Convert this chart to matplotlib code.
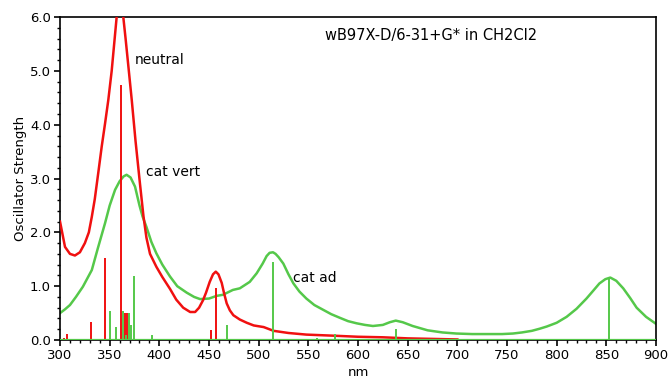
import matplotlib
matplotlib.use("Agg")
import matplotlib.pyplot as plt
from matplotlib.ticker import MultipleLocator, FormatStrFormatter

# Spectra (nm, oscillator strength)
neutral_nm = [300, 305, 310, 315, 320, 325, 329, 332, 335, 338.6, 342, 345.3, 348.6, 352, 355, 357, 359, 360.5,
              362, 363.7, 366, 369, 372.2, 376, 380.5, 384, 387, 390.6, 397, 403, 410.7, 417, 424, 431, 436,
              440, 444, 447, 450.7, 454, 456.8, 459.5, 462.8, 465, 467.8, 471, 474.5, 481, 488, 495, 505,
              515, 530, 548, 575, 600, 625, 650, 675, 700]
neutral_f = [2.2, 1.73, 1.6, 1.57, 1.63, 1.8, 2.0, 2.29, 2.62, 3.12, 3.6, 4.02, 4.46, 5.0, 5.6, 6.0, 6.25, 6.3,
             6.25, 6.0, 5.6, 5.05, 4.46, 3.7, 2.9, 2.3, 1.9, 1.6, 1.36, 1.17, 0.95, 0.75, 0.6, 0.52, 0.52,
             0.6, 0.74, 0.88, 1.08, 1.22, 1.27, 1.22, 1.06, 0.88, 0.68, 0.55, 0.46, 0.38, 0.32, 0.27, 0.24,
             0.17, 0.13, 0.1, 0.08, 0.06, 0.05, 0.03, 0.02, 0.01]

catvert_nm = [300, 305, 310, 316, 323, 332, 338, 345.3, 350, 355.4, 360, 364, 367, 371, 375.5, 380, 383, 387,
              392, 397, 403, 410.7, 418, 427.5, 435, 441, 450, 457.7, 464, 474, 481, 491, 498, 504, 508, 511,
              514.4, 517, 520, 524.8, 530, 535, 541, 548, 556, 565, 573, 582, 590, 598.6, 607, 615, 625, 632,
              638, 645, 655, 670, 685, 699, 715, 730, 745, 756, 765, 775, 783, 790, 800, 810, 820, 830, 837,
              843, 849, 854, 860, 867, 874, 880.5, 890, 900]
catvert_f = [0.5, 0.57, 0.65, 0.8, 0.99, 1.3, 1.7, 2.17, 2.5, 2.79, 2.95, 3.04, 3.07, 3.02, 2.85, 2.5, 2.3, 2.1,
             1.82, 1.61, 1.4, 1.18, 1.0, 0.88, 0.8, 0.76, 0.77, 0.82, 0.84, 0.93, 0.96, 1.08, 1.24, 1.42, 1.56,
             1.62, 1.63, 1.6, 1.54, 1.42, 1.22, 1.05, 0.9, 0.77, 0.65, 0.56, 0.48, 0.41, 0.35, 0.31, 0.28,
             0.26, 0.28, 0.33, 0.36, 0.33, 0.26, 0.18, 0.14, 0.12, 0.11, 0.11, 0.11, 0.12, 0.14, 0.17, 0.21,
             0.25, 0.32, 0.43, 0.58, 0.77, 0.92, 1.05, 1.13, 1.16, 1.1, 0.96, 0.78, 0.6, 0.43, 0.3]

# Stick spectra (transitions)
neutral_stick_nm = [304, 307, 331, 345, 361, 365, 367, 452, 457]
neutral_stick_f = [0.04, 0.12, 0.33, 1.52, 4.74, 0.5, 0.5, 0.19, 0.97]
cat_stick_nm = [350, 356, 363, 366, 369, 371, 374, 393, 468, 514, 559, 577, 638, 853]
cat_stick_f = [0.53, 0.24, 0.53, 0.1, 0.5, 0.27, 1.19, 0.1, 0.28, 1.44, 0.03, 0.12, 0.2, 1.16]

RED = "#f01010"
GREEN = "#55c84a"

plt.rcParams["font.family"] = ["DejaVu Sans"]

fig = plt.figure(figsize=(6.7, 3.89), dpi=100)
ax = fig.add_axes([0.0896, 0.126, 0.8895, 0.830])

# curves
ax.plot(catvert_nm, catvert_f, color=GREEN, lw=1.8, zorder=2)
ax.plot(neutral_nm, neutral_f, color=RED, lw=1.8, zorder=3)

# sticks
ax.vlines(neutral_stick_nm, 0, neutral_stick_f, color=RED, lw=1.4, zorder=4)
ax.vlines(cat_stick_nm, 0, cat_stick_f, color=GREEN, lw=1.4, zorder=4)
ax.axhline(0, color=GREEN, lw=1.6, zorder=5)

ax.set_xlim(300, 900)
ax.set_ylim(0, 6.0)
ax.xaxis.set_major_locator(MultipleLocator(50))
ax.xaxis.set_minor_locator(MultipleLocator(10))
ax.yaxis.set_major_locator(MultipleLocator(1.0))
ax.yaxis.set_minor_locator(MultipleLocator(0.2))
ax.yaxis.set_major_formatter(FormatStrFormatter("%.1f"))
ax.tick_params(which="major", direction="out", length=4.5, width=1.2, labelsize=9.5, pad=2)
ax.tick_params(which="minor", direction="out", length=2.5, width=1.0)
for s in ax.spines.values():
    s.set_linewidth(1.2)

ax.set_xlabel("nm", fontsize=9.5, labelpad=3)
ax.set_ylabel("Oscillator Strength", fontsize=9.5, labelpad=2)

ax.text(375.5, 5.2, "neutral", fontsize=10, va="center")
ax.text(386.5, 3.12, "cat vert", fontsize=10, va="center")
ax.text(534.5, 1.15, "cat ad", fontsize=10, va="center")
ax.text(566.5, 5.65, "wB97X-D/6-31+G* in CH2Cl2", fontsize=10.5, va="center")

fig.savefig("out.png", dpi=100)
